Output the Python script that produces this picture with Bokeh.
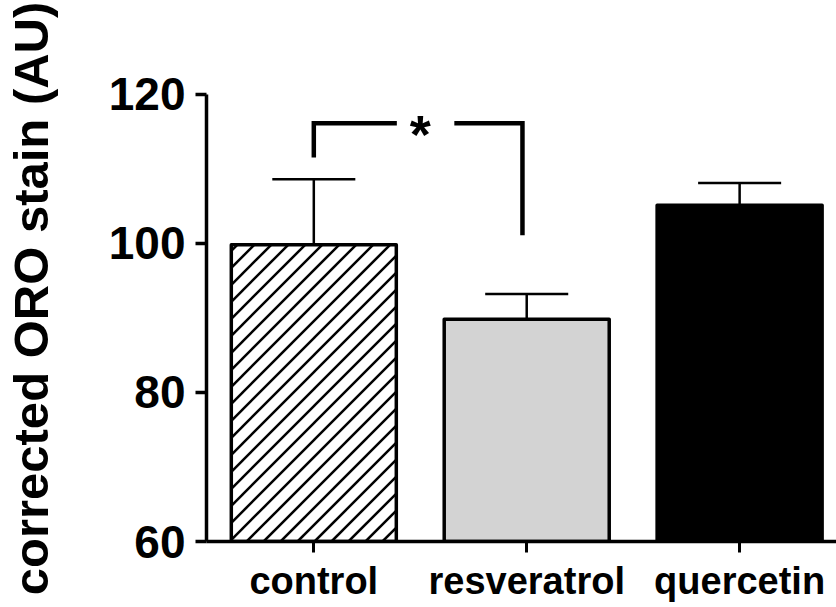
import numpy as np
from bokeh.plotting import figure
from bokeh.models import Range1d, FixedTicker
from bokeh.core.properties import value
from bokeh.embed import file_html
from bokeh.resources import INLINE

# data
categories = ["control", "resveratrol", "quercetin"]
means = [99.8, 89.8, 105.1]
errors = [8.8, 3.4, 3.0]
y_ticks = [60, 80, 100, 120]
# significance bracket between control and resveratrol
sig_left_bottom = 111.5
sig_top = 116.1
sig_right_bottom = 101.1
sig_label = "*"

xs = [i + 1 for i in range(len(categories))]
FONT = "Liberation Sans"

W, H = 836, 607
BL, BR, BT, BB = 205, 0, 55, 66
x0r, x1r = 0.496, 3.455
y0r, y1r = 60, 125.2

p = figure(width=W, height=H, output_backend="svg", toolbar_location=None,
           x_range=Range1d(x0r, x1r), y_range=Range1d(y0r, y1r),
           min_border_left=BL, min_border_right=BR, min_border_top=BT, min_border_bottom=BB)
p.outline_line_color = None
p.xgrid.grid_line_color = None
p.ygrid.grid_line_color = None
p.background_fill_color = "white"
p.border_fill_color = "white"

# error bars (upper only)
up = [m + e for m, e in zip(means, errors)]
p.segment(x0=xs, y0=means, x1=xs, y1=up, line_color="black", line_width=2.5)
p.segment(x0=[x - 0.195 for x in xs], y0=up, x1=[x + 0.195 for x in xs], y1=up,
          line_color="black", line_width=2.5)

# bar fills
bw = 0.775
fills = ["white", "#d3d3d3", "black"]
p.vbar(x=xs, top=means, bottom=60, width=bw, fill_color=fills, line_color=None)

# 45-degree hatch for the control bar (pixel-aware, clipped to the bar)
pxx = (W - BL - BR) / (x1r - x0r)   # pixels per x unit
pxy = (H - BT - BB) / (y1r - y0r)   # pixels per y unit
bar_w = bw * pxx
bar_h = (means[0] - 60) * pxy
step = 17.0
hx0, hy0, hx1, hy1 = [], [], [], []
for c in np.arange(-bar_h + 6, bar_w, step):
    a = max(0.0, c)
    b = min(bar_w, bar_h + c)
    if b <= a:
        continue
    hx0.append(xs[0] - bw / 2 + a / pxx)
    hy0.append(60 + (a - c) / pxy)
    hx1.append(xs[0] - bw / 2 + b / pxx)
    hy1.append(60 + (b - c) / pxy)
p.segment(x0=hx0, y0=hy0, x1=hx1, y1=hy1, line_color="black", line_width=2.5)

# bar outlines
p.vbar(x=xs, top=means, bottom=60, width=bw, fill_color=None,
       line_color="black", line_width=3.5, line_join="round")

# significance bracket
p.multi_line(xs=[[xs[0], xs[0], 1.39], [1.66, 1.98, 1.98]],
             ys=[[sig_left_bottom, sig_top, sig_top], [sig_top, sig_top, sig_right_bottom]],
             line_color="black", line_width=4.5, line_join="miter")
p.text(x=[1.5], y=[114.7], text=[sig_label], text_align="center", text_baseline="alphabetic",
       text_font=value(FONT), text_font_style="bold", text_font_size="54px", text_color="black")

# axes
xa = p.xaxis[0]
xa.ticker = FixedTicker(ticks=xs)
xa.major_label_overrides = {x: c for x, c in zip(xs, categories)}
xa.minor_tick_line_color = None
xa.axis_line_width = 3.5
xa.major_tick_line_width = 3
xa.major_tick_out = 11
xa.major_tick_in = 0
xa.major_label_text_font = FONT
xa.major_label_text_font_style = "bold"
xa.major_label_text_font_size = "38px"
xa.major_label_text_color = "black"
xa.major_label_standoff = 7

ya = p.yaxis[0]
ya.ticker = FixedTicker(ticks=y_ticks)
ya.bounds = (60, 120)
ya.minor_tick_line_color = None
ya.axis_line_width = 3.5
ya.major_tick_line_width = 3.5
ya.major_tick_out = 11
ya.major_tick_in = 0
ya.major_label_text_font = FONT
ya.major_label_text_font_style = "bold"
ya.major_label_text_font_size = "46px"
ya.major_label_text_color = "black"
ya.major_label_standoff = 10
ya.axis_label = "corrected ORO stain (AU)"
ya.axis_label_text_font = FONT
ya.axis_label_text_font_style = "bold"
ya.axis_label_text_font_size = "49px"
ya.axis_label_text_color = "black"
ya.axis_label_standoff = 48

open("out.html", "w").write(file_html(p, INLINE))
